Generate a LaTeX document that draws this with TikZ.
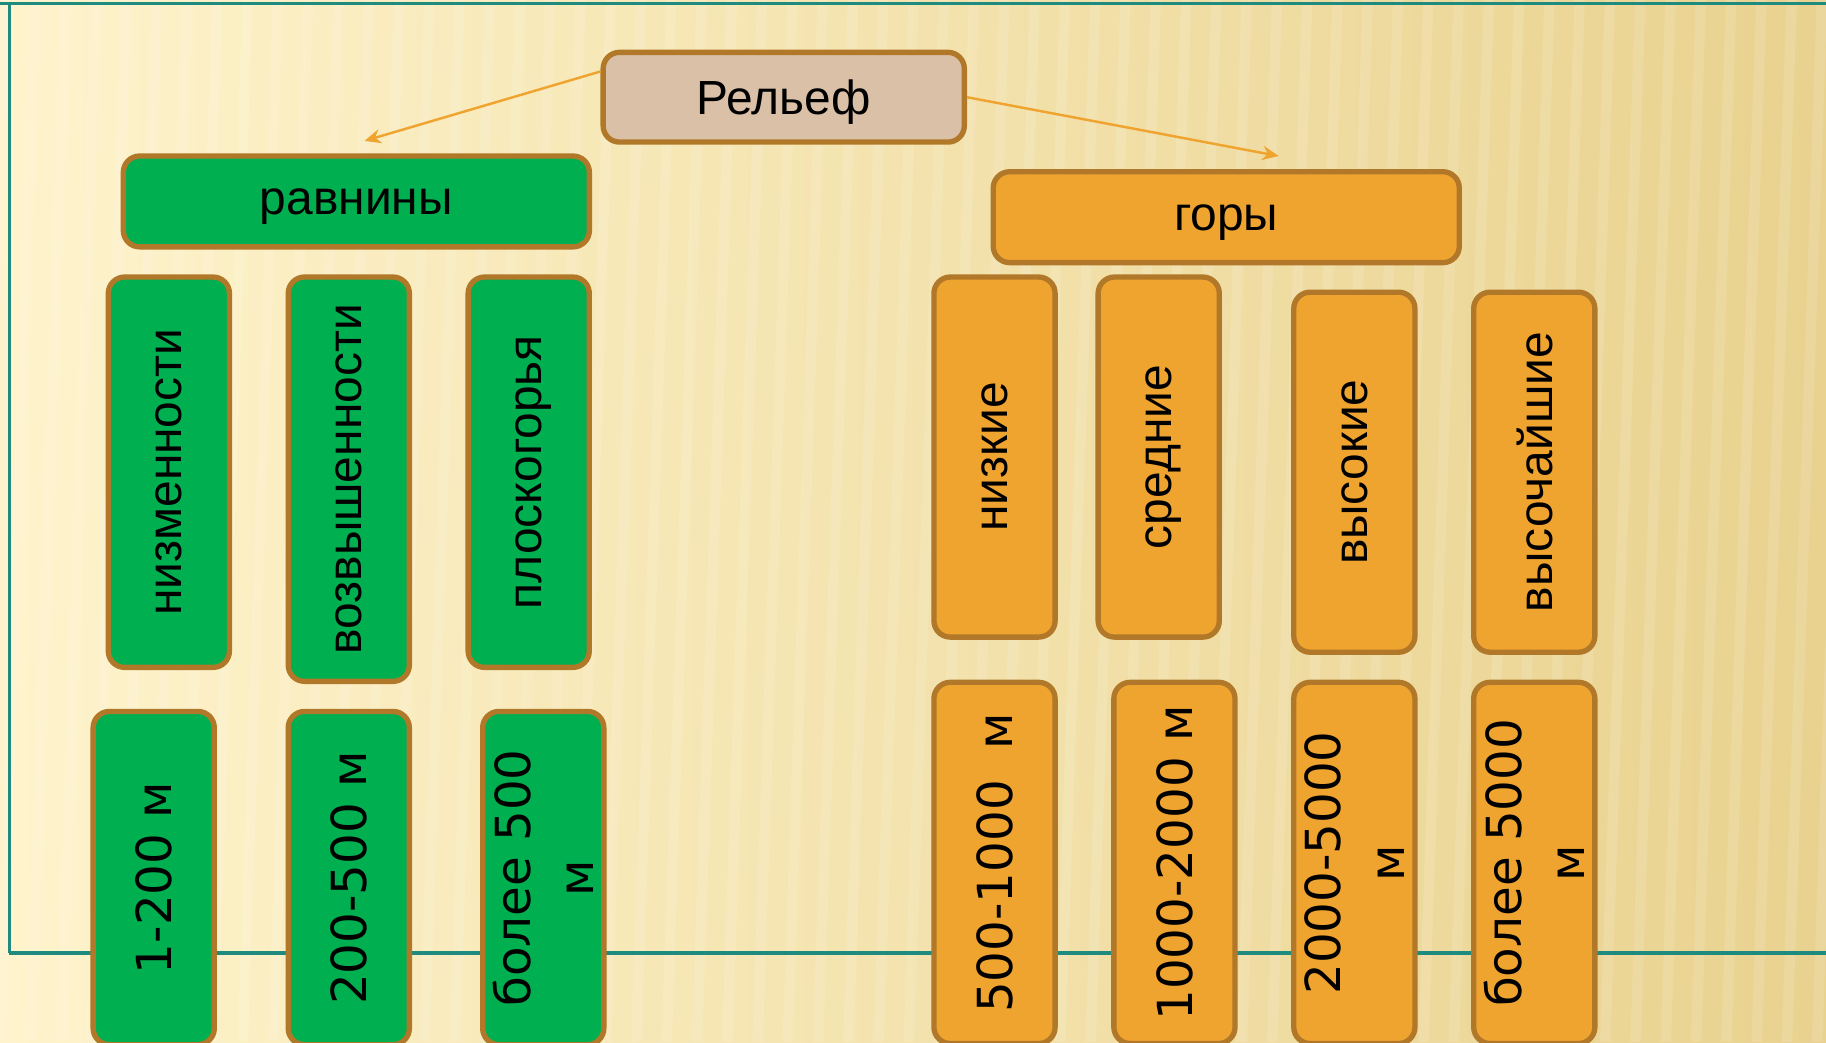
\documentclass[tikz,border=0pt]{standalone}
\usepackage{fontspec}
\setmainfont{Liberation Sans}
\newfontfamily\numfont{DejaVu Sans}
\usetikzlibrary{arrows.meta, positioning}

\definecolor{plaingreen}{HTML}{00AF50}
\definecolor{mountorange}{HTML}{F0A430}
\definecolor{rootbeige}{HTML}{DBC0A8}
\definecolor{boxedge}{HTML}{B07828}
\definecolor{frameteal}{HTML}{1F8A7E}
\definecolor{bglight}{HTML}{FEF3CC}
\definecolor{bgdark}{HTML}{E9D28F}

\begin{document}
\begin{tikzpicture}[x=0.01cm, y=-0.01cm,
        box/.style={rectangle, draw=boxedge, line width=1.3pt, rounded corners=4pt, inner sep=0pt, align=center, text depth=0pt, font=\fontsize{11.7}{14.7}\selectfont},
        plainbox/.style={box, fill=plaingreen},
        mountbox/.style={box, fill=mountorange},
        rootbox/.style={box, fill=rootbeige, minimum width=3.1cm, minimum height=0.77cm},
        headbox/.style={minimum width=4cm, minimum height=0.78cm},
        upbox/.style={rotate=90, minimum height=1.04cm},
        numbox/.style={upbox, font=\numfont\fontsize{11.8}{15.6}\selectfont},
        link/.style={draw=mountorange, line width=0.6pt, -{Stealth[length=4pt, width=3.5pt]}}
    ]
        \useasboundingbox (0,0) rectangle (1568,895);
        \clip (0,0) rectangle (1568,895);

        % background and frame
        \fill[left color=bglight, middle color=bglight!60!bgdark, right color=bgdark] (0,0) rectangle (1568,895);
        \foreach \sx in {0,26,...,1620}
            \fill[white, opacity=0.13] (\sx,0) -- ++(9,0) -- ++(-30,895) -- ++(-9,0) -- cycle;
        \draw[frameteal, line width=0.8pt] (0,3) -- (1568,3);
        \draw[frameteal, line width=0.6pt] (8,3) -- (8,818);
        \draw[frameteal, line width=1pt] (8,818) -- (1568,818);

        \node[rootbox] (relief) at (673,83.5) {Рельеф};
        \node[plainbox, headbox] (plains) at (306,173) {равнины};
        \node[mountbox, headbox] (mounts) at (1053,186.5) {горы};

        \coordinate (plainsTip) at (313,121);
        \coordinate (mountsTip) at (1098,134);
        \draw[link] (relief.172) -- (plainsTip);
        \draw[link] (relief.east) -- (mountsTip);

        % plains
        \node[plainbox, upbox, minimum width=3.35cm] (low) at (145,405.5) {низменности};
        \node[plainbox, upbox, minimum width=3.47cm] (upland) at (299.5,411.5) {возвышенности};
        \node[plainbox, upbox, minimum width=3.35cm] (plateau) at (454,405.5) {плоскогорья};

        \node[plainbox, numbox, minimum width=2.86cm] (lowH) at (132,754) {1-200 м};
        \node[plainbox, numbox, minimum width=2.86cm] (uplandH) at (299.5,754) {200-500 м};
        \node[plainbox, numbox, minimum width=2.86cm] (plateauH) at (466.5,754) {более 500\\м};

        % mountains
        \node[mountbox, upbox, minimum width=3.09cm] (lowM) at (854,392.5) {низкие};
        \node[mountbox, upbox, minimum width=3.09cm] (midM) at (995,392.5) {средние};
        \node[mountbox, upbox, minimum width=3.09cm] (highM) at (1163,405.5) {высокие};
        \node[mountbox, upbox, minimum width=3.09cm] (topM) at (1317.5,405.5) {высочайшие};

        \node[mountbox, numbox, minimum width=3.1cm] (lowMH) at (854,741) {500-1000\ \ м};
        \node[mountbox, numbox, minimum width=3.1cm] (midMH) at (1008.5,741) {1000-2000 м};
        \node[mountbox, numbox, minimum width=3.1cm] (highMH) at (1163,741) {2000-5000\\м};
        \node[mountbox, numbox, minimum width=3.1cm] (topMH) at (1317.5,741) {более 5000\\м};
    \end{tikzpicture}
\end{document}
